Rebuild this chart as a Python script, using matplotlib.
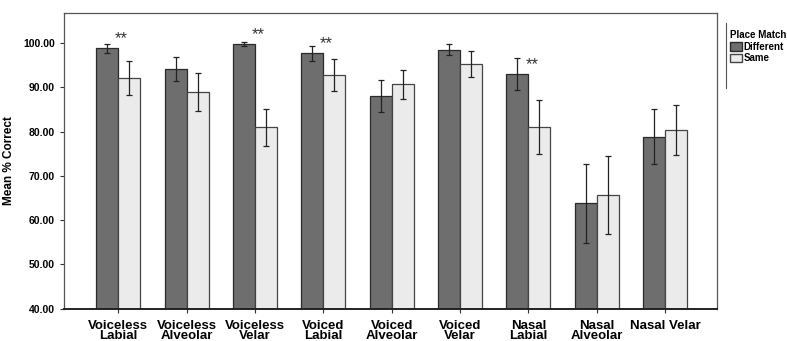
import matplotlib
matplotlib.use("Agg")
import matplotlib.pyplot as plt
import numpy as np
from matplotlib.patches import Patch

plt.rcParams["font.family"] = ["Liberation Sans", "DejaVu Sans"]
plt.rcParams["font.weight"] = "bold"
plt.rcParams["axes.labelweight"] = "bold"

categories = ["Voiceless\nLabial", "Voiceless\nAlveolar", "Voiceless\nVelar",
              "Voiced\nLabial", "Voiced\nAlveolar", "Voiced\nVelar",
              "Nasal\nLabial", "Nasal\nAlveolar", "Nasal Velar"]
different = [98.8, 94.2, 99.8, 97.7, 88.1, 98.5, 93.0, 63.8, 78.8]
different_err = [1.0, 2.7, 0.5, 1.7, 3.6, 1.3, 3.6, 9.0, 6.2]
same = [92.1, 89.0, 81.0, 92.8, 90.7, 95.3, 81.0, 65.7, 80.4]
same_err = [3.9, 4.3, 4.2, 3.7, 3.3, 2.9, 6.1, 8.9, 5.7]
significant = [True, False, True, True, False, False, True, False, False]

fig = plt.figure(figsize=(7.87, 3.41), dpi=100)
ax = fig.add_axes([0.0813, 0.0947, 0.8294, 0.8672])

x = np.arange(len(categories))
w = 0.32
err_kw = dict(ecolor="#222222", elinewidth=0.9, capsize=2.2, capthick=0.9)
ax.bar(x - w / 2, different, w, color="#6e6e6e", edgecolor="#2a2a2a",
       linewidth=0.9, yerr=different_err, error_kw=err_kw, label="Different")
ax.bar(x + w / 2, same, w, color="#ebebeb", edgecolor="#444444",
       linewidth=0.9, yerr=same_err, error_kw=err_kw, label="Same")

# significance markers just above the "different" bars
for i, sig in enumerate(significant):
    if sig:
        ax.text(x[i] + 0.05, different[i] + 2.2, "**",
                ha="center", va="center", fontsize=12, fontweight="normal",
                color="#333333")

ax.set_xlim(-0.795, 8.757)
ax.set_ylim(40, 106.8)
ax.set_yticks(range(40, 101, 10))
ax.set_yticklabels([f"{v:.2f}" for v in range(40, 101, 10)], fontsize=7.5,
                   fontweight="bold")
ax.set_xticks(x)
ax.set_xticklabels(categories, fontsize=9.5, linespacing=0.85,
                   fontweight="bold")
ax.tick_params(axis="both", direction="out", length=3, width=0.8, color="#333333")
ax.tick_params(axis="x", pad=5)
ax.set_ylabel("Mean % Correct", fontsize=8.5, fontweight="bold")
ax.yaxis.set_label_coords(-0.075, 0.5)

for side in ["left", "top", "right"]:
    ax.spines[side].set_color("#555555")
    ax.spines[side].set_linewidth(0.9)
ax.spines["bottom"].set_color("#222222")
ax.spines["bottom"].set_linewidth(1.4)

handles = [Patch(facecolor="#6e6e6e", edgecolor="#2a2a2a", label="Different"),
           Patch(facecolor="#ebebeb", edgecolor="#444444", label="Same")]
leg = fig.legend(handles=handles, title="Place Match", loc="upper left",
                 bbox_to_anchor=(0.922, 0.925), frameon=False,
                 title_fontsize=7, handlelength=1.2, handleheight=1.0,
                 handletextpad=0.15, borderpad=0, labelspacing=0.15,
                 prop={"weight": "bold", "size": 7})
leg.get_title().set_fontweight("bold")
leg._legend_box.align = "left"

fig.add_artist(plt.Line2D([0.9222, 0.9222], [0.742, 0.934],
                          color="#555555", linewidth=0.8))

fig.savefig("out.png", dpi=100)
